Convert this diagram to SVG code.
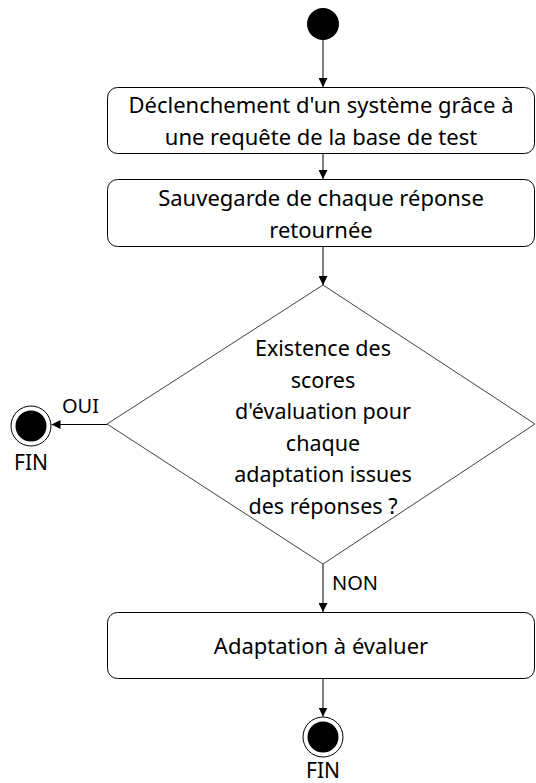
<svg xmlns="http://www.w3.org/2000/svg" width="536" height="783" viewBox="0 0 536 783">
<style>
  .box { fill: #ffffff; stroke: #000000; stroke-width: 1; }
  .dia { fill: #ffffff; stroke: #404040; stroke-width: 1; }
  .t { font-family: "Noto Sans", "Open Sans", sans-serif; font-size: 22px; fill: #000000; text-anchor: middle; }
  .d { font-family: "Noto Sans", "Open Sans", sans-serif; font-size: 21.5px; fill: #000000; text-anchor: middle; }
  .fin { font-family: "Noto Sans", "Open Sans", sans-serif; font-size: 21px; fill: #000000; text-anchor: middle; }
  .lbl { font-family: "Noto Sans", "Open Sans", sans-serif; font-size: 20px; fill: #000000; }
  .edge { stroke: #000000; stroke-width: 1; fill: none; marker-end: url(#arr); }
</style>
<defs>
  <marker id="arr" viewBox="0 0 10 10" refX="10" refY="5" markerWidth="9" markerHeight="9" markerUnits="userSpaceOnUse" orient="auto">
    <path d="M0,0 L10,5 L0,10 Z" fill="#000000"/>
  </marker>
</defs>
<rect width="536" height="783" fill="#ffffff"/>
<g id="start">
  <circle cx="323" cy="24" r="16" fill="#000000"/>
</g>
<g id="n1">
  <rect class="box" x="107.5" y="87.5" width="427" height="66" rx="10"/>
  <text class="t" x="321" y="113">Déclenchement d'un système grâce à</text>
  <text class="t" x="321" y="145">une requête de la base de test</text>
</g>
<g id="n2">
  <rect class="box" x="107.5" y="179.5" width="427" height="67" rx="10"/>
  <text class="t" x="321" y="206">Sauvegarde de chaque réponse</text>
  <text class="t" x="321" y="238">retournée</text>
</g>
<g id="decision">
  <polygon class="dia" points="323,285 535,424 323,564 107,424"/>
  <text class="d" x="323" y="356">Existence des</text>
  <text class="d" x="323" y="387.5">scores</text>
  <text class="d" x="323" y="419">d'évaluation pour</text>
  <text class="d" x="323" y="450.5">chaque</text>
  <text class="d" x="323" y="482">adaptation issues</text>
  <text class="d" x="323" y="513.5">des réponses ?</text>
</g>
<g id="n3">
  <rect class="box" x="107.5" y="612.5" width="427" height="66" rx="10"/>
  <text class="t" x="321" y="654">Adaptation à évaluer</text>
</g>
<g id="end-left">
  <circle cx="31" cy="426" r="20" fill="#ffffff" stroke="#000000" stroke-width="1"/>
  <circle cx="31" cy="426" r="15.5" fill="#000000"/>
  <text class="fin" x="31" y="470">FIN</text>
</g>
<g id="end-bottom">
  <circle cx="323" cy="737" r="20" fill="#ffffff" stroke="#000000" stroke-width="1"/>
  <circle cx="323" cy="737" r="15.5" fill="#000000"/>
  <text class="fin" x="323" y="778">FIN</text>
</g>
<g id="connectors">
  <line class="edge" x1="323" y1="40" x2="323" y2="87"/>
  <line class="edge" x1="323" y1="154" x2="323" y2="179"/>
  <line class="edge" x1="323" y1="247" x2="323" y2="285"/>
  <line class="edge" x1="107" y1="424.5" x2="51.5" y2="424.5"/>
  <line class="edge" x1="323" y1="564" x2="323" y2="612"/>
  <line class="edge" x1="323" y1="679" x2="323" y2="716.5"/>
  <text class="lbl" x="62" y="413">OUI</text>
  <text class="lbl" x="332" y="590">NON</text>
</g>
</svg>
